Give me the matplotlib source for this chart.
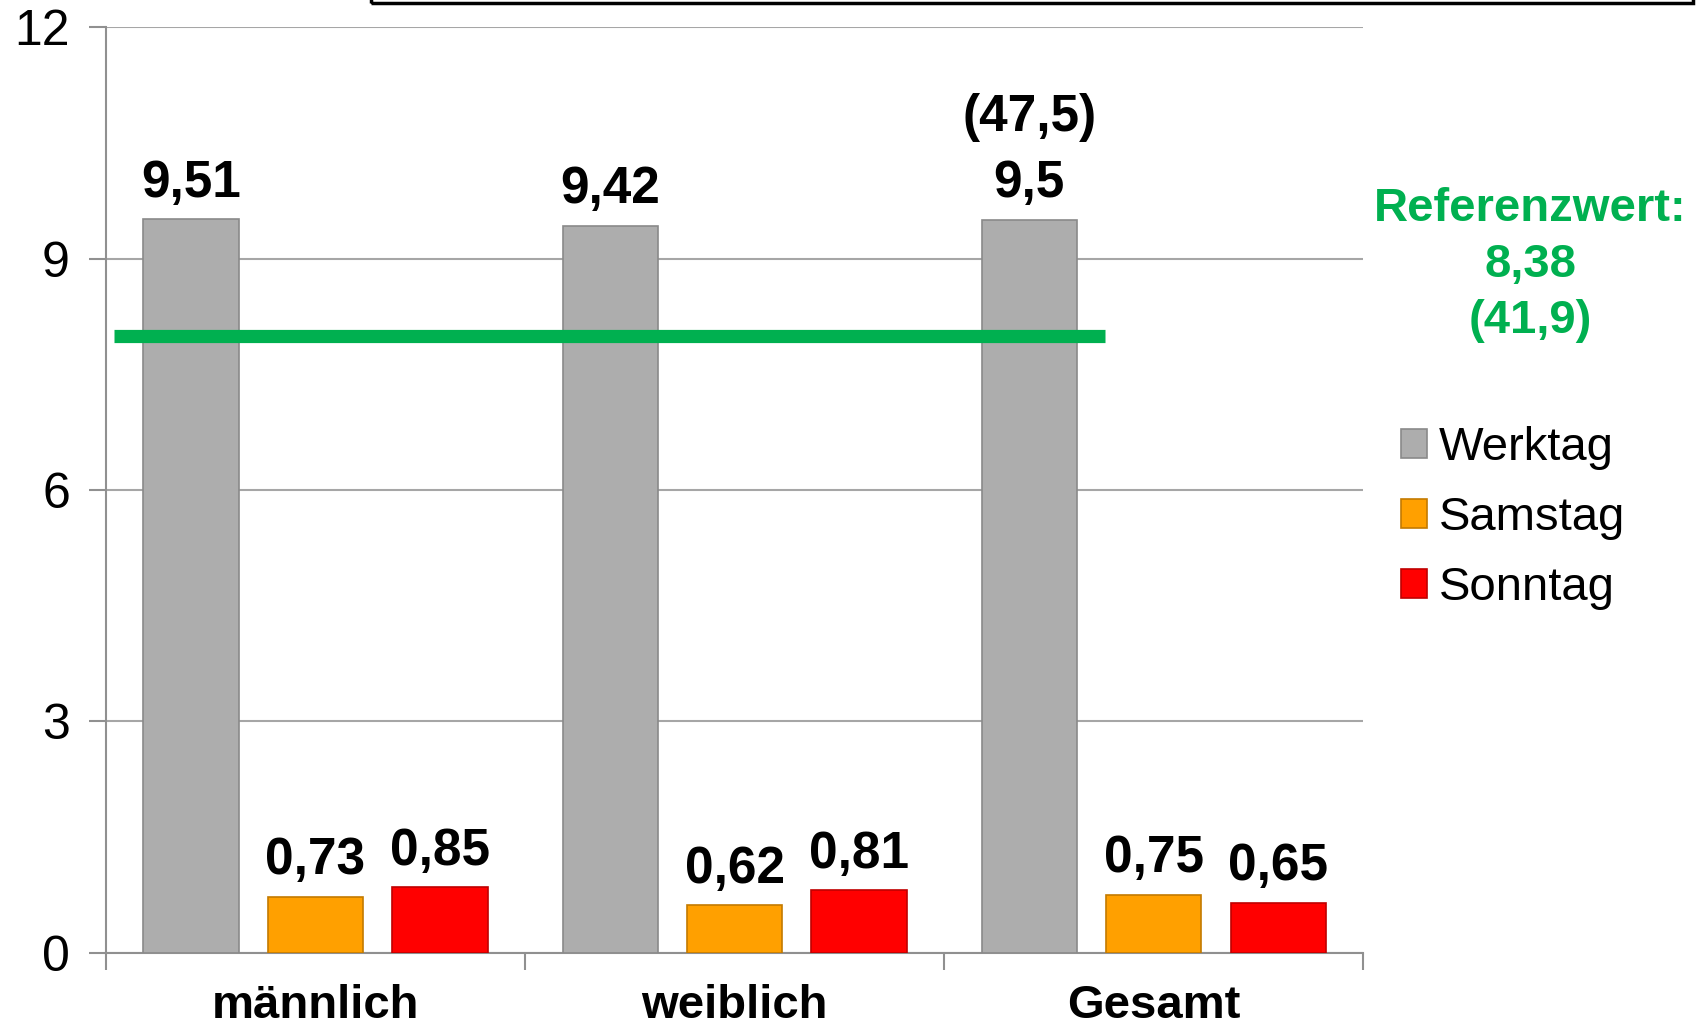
import matplotlib
matplotlib.use('Agg')
import matplotlib.pyplot as plt
from matplotlib.patches import Rectangle
import numpy as np

# Data
categories = ['männlich', 'weiblich', 'Gesamt']
series_names = ['Werktag', 'Samstag', 'Sonntag']
werktag = [9.51, 9.42, 9.5]
samstag = [0.73, 0.62, 0.75]
sonntag = [0.85, 0.81, 0.65]
werktag_labels = ['9,51', '9,42', '9,5']
samstag_labels = ['0,73', '0,62', '0,75']
sonntag_labels = ['0,85', '0,81', '0,65']
gesamt_pct_label = '(47,5)'
ref_line_level = 8.0
ref_text = 'Referenzwert:\n8,38\n(41,9)'
y_ticks = [0, 3, 6, 9, 12]

colors = ['#ADADAD', '#FFA000', '#FF0000']
edges = ['#8A8A8A', '#C47A00', '#C00000']
green = '#00B050'

plt.rcParams['font.family'] = ['Liberation Sans', 'DejaVu Sans']
narrow = ['Liberation Sans Narrow', 'Liberation Sans', 'DejaVu Sans']

fig = plt.figure(figsize=(17.04, 10.28), dpi=100)
ax = fig.add_axes([0.0622, 0.073, 0.7378, 0.9007])

x = np.arange(len(categories)) + 0.5
offsets = [-0.297, 0.0, 0.297]
width = 0.227

all_vals = [werktag, samstag, sonntag]
all_labels = [werktag_labels, samstag_labels, sonntag_labels]
bar_sets = []
for i, (vals, labs) in enumerate(zip(all_vals, all_labels)):
    bars = ax.bar(x + offsets[i], vals, width, color=colors[i], edgecolor=edges[i],
                  linewidth=1.2, label=series_names[i], zorder=3)
    bar_sets.append(bars)
    for b, lab in zip(bars, labs):
        ax.annotate(lab, (b.get_x() + b.get_width() / 2, b.get_height()),
                    xytext=(0, 26), textcoords='offset points', ha='center', va='center',
                    fontsize=37, fontweight='bold', family=narrow, zorder=5)

# extra percent label above Gesamt
gb = bar_sets[0][2]
ax.annotate(gesamt_pct_label, (gb.get_x() + gb.get_width() / 2, gb.get_height()),
            xytext=(0, 74), textcoords='offset points', ha='center', va='center',
            fontsize=37, fontweight='bold', family=narrow, zorder=5)

# reference line
ax.plot([0.018, 2.383], [ref_line_level, ref_line_level], color=green, linewidth=9.5,
        solid_capstyle='butt', zorder=4)

# axes styling
ax.set_xlim(0, 3)
ax.set_ylim(0, 12)
ax.set_yticks(y_ticks)
ax.set_yticklabels([str(t) for t in y_ticks], fontsize=36)
ax.yaxis.grid(True, color='#A6A6A6', linewidth=1.5, zorder=0)
ax.set_axisbelow(True)
ax.set_xticks([0, 1, 2, 3])
ax.set_xticklabels([])
ax.set_xticks(x, minor=True)
ax.set_xticklabels(categories, minor=True, fontsize=34, fontweight='bold')
ax.tick_params(axis='x', which='minor', length=0, pad=22)
ax.tick_params(axis='x', which='major', length=12, width=1.5, color='#909090', direction='out')
ax.tick_params(axis='y', length=12, width=1.5, color='#909090', pad=14)
for s in ['top', 'right']:
    ax.spines[s].set_visible(False)
for s in ['left', 'bottom']:
    ax.spines[s].set_color('#909090')
    ax.spines[s].set_linewidth(1.5)

# reference value text
fig.text(0.898, 0.742, ref_text, ha='center', va='center', color=green,
         fontsize=34, fontweight='bold', linespacing=1.35)

# legend
ax.legend(loc='center left', bbox_to_anchor=(0.822, 0.496), bbox_transform=fig.transFigure,
          frameon=False, fontsize=34, handlelength=0.55, handleheight=0.55,
          handletextpad=0.25, labelspacing=0.55, borderpad=0, borderaxespad=0)

# partly visible title box at the top
fig.patches.append(Rectangle((371 / 1704, 1 - 3 / 1028), (1693 - 371) / 1704, 0.05,
                             transform=fig.transFigure, fill=False, edgecolor='black',
                             linewidth=2.5))

fig.savefig('out.png', dpi=100)
